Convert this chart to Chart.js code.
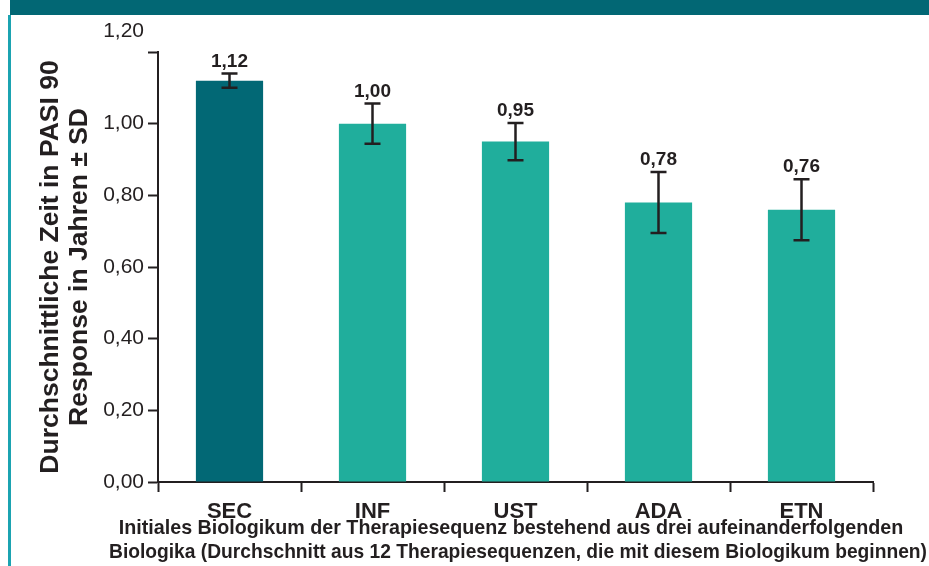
<!DOCTYPE html>
<html>
<head>
<meta charset="utf-8">
<script src="https://cdn.jsdelivr.net/npm/chart.js@4/dist/chart.umd.min.js"></script>
<style>
  html, body { margin: 0; padding: 0; background: #fff; }
  #wrap { width: 929px; height: 566px; position: relative; }
</style>
</head>
<body>
<div id="wrap"><canvas id="chart1"></canvas></div>
<script>
let categories = ['SEC', 'INF', 'UST', 'ADA', 'ETN'];
let means = [1.12, 1.00, 0.95, 0.78, 0.76];
let sds = [0.02, 0.056, 0.052, 0.085, 0.085];
let yTicks = [0, 0.2, 0.4, 0.6, 0.8, 1.0, 1.2];
let barColors = ['#026875', '#20ae9c', '#20ae9c', '#20ae9c', '#20ae9c'];
let xTitle = ['Initiales Biologikum der Therapiesequenz bestehend aus drei aufeinanderfolgenden',
              'Biologika (Durchschnitt aus 12 Therapiesequenzen, die mit diesem Biologikum beginnen)'];
let yTitle = ['Durchschnittliche Zeit in PASI 90', 'Response in Jahren ± SD'];

const ink = '#231f20';
const fontName = "'Liberation Sans', Arial, sans-serif";

function fmt(v) {
  return v.toFixed(2).replace('.', ',');
}

// teal band on top and the thin line on the left
const framePlugin = {
  id: 'frame',
  beforeDraw(chart) {
    let c = chart.ctx;
    c.save();
    c.fillStyle = '#026774';
    c.fillRect(10, 0, 919, 15);
    c.fillStyle = '#1ba3b1';
    c.fillRect(8, 15, 3, 551);
    c.restore();
  }
};

// y tick labels (the top one sits higher in the original) + x title
const labelPlugin = {
  id: 'labels',
  afterDraw(chart) {
    let c = chart.ctx;
    let y = chart.scales.y;
    c.save();
    c.font = '21px ' + fontName;
    c.fillStyle = ink;
    c.textAlign = 'right';
    c.textBaseline = 'middle';
    yTicks.forEach(t => {
      let py = y.getPixelForValue(t);
      if (t === 1.2) py -= 21;
      c.fillText(fmt(t), 144, py);
    });
    // x title is wider than the axis, so it is drawn here
    c.font = 'bold 19.7px ' + fontName;
    c.textAlign = 'center';
    c.fillText(xTitle[0], 511, 529);
    c.fillText(xTitle[1], 518, 553, 818);
    c.restore();
  }
};

// error bars and value labels
const errorPlugin = {
  id: 'errors',
  afterDatasetsDraw(chart) {
    let c = chart.ctx;
    let meta = chart.getDatasetMeta(0);
    let y = chart.scales.y;
    c.save();
    c.strokeStyle = ink;
    c.lineWidth = 2.5;
    meta.data.forEach((bar, i) => {
      let x = bar.x;
      let top = y.getPixelForValue(means[i] + sds[i]);
      let bot = y.getPixelForValue(means[i] - sds[i]);
      c.beginPath();
      c.moveTo(x, top); c.lineTo(x, bot);
      c.moveTo(x - 8, top); c.lineTo(x + 8, top);
      c.moveTo(x - 8, bot); c.lineTo(x + 8, bot);
      c.stroke();
      c.font = 'bold 19px ' + fontName;
      c.fillStyle = ink;
      c.textAlign = 'center';
      c.textBaseline = 'alphabetic';
      c.fillText(fmt(means[i]), x, top - 7);
    });
    c.restore();
  }
};

let ctx1 = document.getElementById('chart1').getContext('2d');

let myChart = new Chart(ctx1, {
  type: 'bar',
  data: {
    labels: categories,
    datasets: [{
      data: means,
      backgroundColor: barColors,
      borderWidth: 0,
      barPercentage: 0.47,
      categoryPercentage: 1
    }]
  },
  options: {
    responsive: true,
    maintainAspectRatio: false,
    animation: false,
    layout: { padding: { top: 52, right: 56, left: 0, bottom: 0 } },
    plugins: {
      legend: { display: false },
      tooltip: { enabled: false }
    },
    scales: {
      x: {
        grid: {
          offset: true,
          drawOnChartArea: false,
          drawTicks: true,
          tickLength: 10,
          tickWidth: 2,
          color: ink
        },
        border: { color: ink, width: 2 },
        ticks: {
          color: ink,
          padding: 7,
          font: { family: fontName, size: 22, weight: 'bold' }
        },
        afterFit(scale) { scale.height = 84; }
      },
      y: {
        min: 0,
        max: 1.2,
        grid: {
          drawOnChartArea: false,
          drawTicks: true,
          tickLength: 10,
          tickWidth: 2,
          color: ink
        },
        border: { color: ink, width: 2 },
        ticks: {
          stepSize: 0.2,
          display: false
        },
        title: {
          display: true,
          text: yTitle,
          color: ink,
          font: { family: fontName, size: 26.5, weight: 'bold', lineHeight: 1.1 },
          padding: { top: 36, bottom: 0 }
        },
        afterFit(scale) { scale.width = 158; }
      }
    }
  },
  plugins: [framePlugin, labelPlugin, errorPlugin]
});
</script>
</body>
</html>
